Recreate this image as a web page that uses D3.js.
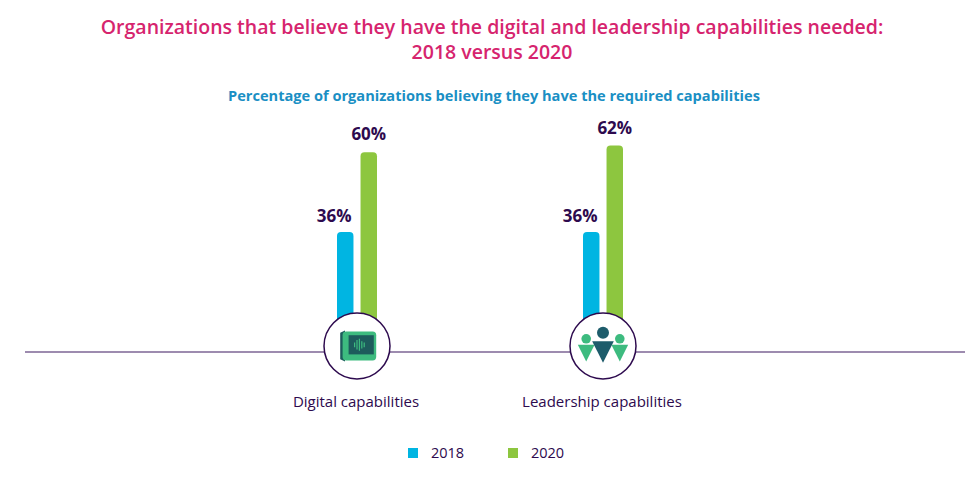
<!DOCTYPE html>
<meta charset="utf-8">
<script src="https://d3js.org/d3.v7.min.js"></script>
<style>body{margin:0;background:#fff;font-family:"Open Sans",sans-serif}</style>
<div id="chart"></div>
<script>
const categories = ["Digital capabilities", "Leadership capabilities"];
const years = ["2018", "2020"];
const values2018 = [36, 36];
const values2020 = [60, 62];
const colors = ["#00b5e2", "#8dc63f"];

const W = 976, H = 478, base = 352;
const svg = d3.select("#chart").append("svg").attr("width", W).attr("height", H);

svg.append("text").attr("x", 492).attr("y", 34).attr("text-anchor", "middle")
  .attr("fill", "#d6246e").style("font-size", "19.5px").style("font-weight", 600)
  .text("Organizations that believe they have the digital and leadership capabilities needed:");
svg.append("text").attr("x", 492).attr("y", 59).attr("text-anchor", "middle")
  .attr("fill", "#d6246e").style("font-size", "19.5px").style("font-weight", 600)
  .text("2018 versus 2020");
svg.append("text").attr("x", 494).attr("y", 101).attr("text-anchor", "middle")
  .attr("fill", "#1a8fc4").style("font-size", "14.6px").style("font-weight", 700)
  .text("Percentage of organizations believing they have the required capabilities");

const x0 = d3.scalePoint().domain(categories).range([357, 603]);
const x1 = d3.scaleBand().domain(years).range([-20, 20]).paddingInner(0.3);
const y = d3.scaleLinear().domain([0, 100]).range([base, base - 333]);

svg.append("line").attr("x1", 25).attr("x2", 965).attr("y1", base).attr("y2", base)
  .attr("stroke", "#3c1860").attr("stroke-width", 1.2);

const data = [];
categories.forEach((c, i) => {
  data.push({c, yr: "2018", v: values2018[i]});
  data.push({c, yr: "2020", v: values2020[i]});
});

const bw = x1.bandwidth(), r = 4;
svg.selectAll(".bar").data(data).join("path")
  .attr("fill", d => colors[years.indexOf(d.yr)])
  .attr("d", d => {
    const xl = x0(d.c) + x1(d.yr), yt = y(d.v);
    return `M${xl},${base}V${yt + r}Q${xl},${yt} ${xl + r},${yt}H${xl + bw - r}Q${xl + bw},${yt} ${xl + bw},${yt + r}V${base}Z`;
  });
svg.selectAll(".lbl").data(data).join("text")
  .attr("x", d => d.yr === "2018" ? x0(d.c) + x1(d.yr) + bw - 2 : x0(d.c) + x1(d.yr) + bw / 2)
  .attr("text-anchor", d => d.yr === "2018" ? "end" : "middle")
  .attr("y", d => d.yr === "2018" ? y(d.v) - 10 : y(d.v) - 12)
  .attr("fill", "#2d0a4e").style("font-size", "17px").style("font-weight", 700)
  .text(d => d.v + "%");

const g = svg.selectAll(".ic").data(categories).join("g")
  .attr("transform", d => `translate(${x0(d)},346)`);
g.append("circle").attr("r", 33).attr("fill", "#fff").attr("stroke", "#2d0a4e").attr("stroke-width", 1.5);
const ic = g.append("g").attr("transform", "scale(1.2)");
ic.filter((d, i) => i === 0).each(function() {
  const s = d3.select(this);
  s.append("path").attr("d", "M-14,-11 L-10,-13 L-10,13 L-14,11 Z").attr("fill", "#1d5c5c");
  s.append("rect").attr("x", -12).attr("y", -12).attr("width", 28).attr("height", 24).attr("rx", 3).attr("fill", "#3dbb7f");
  s.append("rect").attr("x", -7).attr("y", -9).attr("width", 21).attr("height", 16).attr("fill", "#1d5c5c");
  [-3, -1, 1, 3, 5].forEach((dx, k) => s.append("line").attr("x1", dx + 1).attr("x2", dx + 1)
    .attr("y1", -1 - [2, 4, 5, 3, 2][k]).attr("y2", -1 + [2, 4, 5, 3, 2][k]).attr("stroke", "#3dbb7f").attr("stroke-width", 1));
});
ic.filter((d, i) => i === 1).each(function() {
  const s = d3.select(this);
  [-14, 14].forEach(dx => {
    s.append("circle").attr("cx", dx).attr("cy", -6).attr("r", 4).attr("fill", "#3dbb7f");
    s.append("path").attr("d", `M${dx - 7},-1 H${dx + 7} L${dx},13 Z`).attr("fill", "#3dbb7f");
  });
  s.append("circle").attr("cx", 0).attr("cy", -11).attr("r", 5).attr("fill", "#1d5c6b");
  s.append("path").attr("d", "M-9,-4 H9 L0,14 Z").attr("fill", "#1d5c6b");
});

svg.selectAll(".cat").data(categories).join("text")
  .attr("x", d => x0(d) - 1).attr("y", 407).attr("text-anchor", "middle")
  .attr("fill", "#2d0a4e").style("font-size", "15px").text(d => d);

const lg = svg.selectAll(".lg").data(years).join("g")
  .attr("transform", (d, i) => `translate(${408 + i * 100},448)`);
lg.append("rect").attr("width", 10).attr("height", 10).attr("fill", (d, i) => colors[i]);
lg.append("text").attr("x", 23).attr("y", 10).attr("fill", "#2d0a4e").style("font-size", "14.5px").text(d => d);
</script>
